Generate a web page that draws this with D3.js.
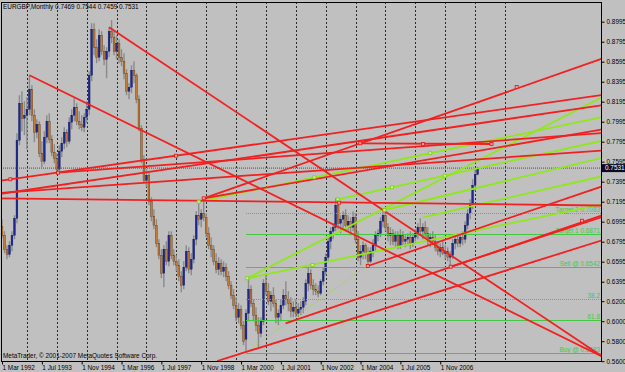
<!DOCTYPE html>
<html>
<head>
<meta charset="utf-8">
<script src="https://cdn.jsdelivr.net/npm/d3@7"></script>
<style>
body { margin: 0; background: #c0c0c0; }
svg { display: block; }
</style>
</head>
<body>
<div id="chart"></div>
<script>
// EURGBP monthly bars, bar 0 = Mar 1992, bar 191 = Feb 2008
var opens = [0.695,0.686,0.672,0.667,0.676,0.686,0.703,0.781,0.818,0.803,
0.806,0.812,0.832,0.806,0.789,0.797,0.768,0.760,0.784,0.800,
0.782,0.769,0.763,0.752,0.770,0.778,0.789,0.780,0.799,0.806,
0.814,0.800,0.797,0.794,0.804,0.812,0.846,0.892,0.874,0.864,
0.886,0.870,0.862,0.870,0.890,0.884,0.870,0.878,0.864,0.860,
0.848,0.830,0.834,0.851,0.846,0.822,0.793,0.762,0.741,0.746,
0.720,0.705,0.696,0.678,0.666,0.648,0.672,0.660,0.686,0.666,
0.660,0.656,0.645,0.636,0.654,0.670,0.652,0.662,0.682,0.706,
0.702,0.708,0.704,0.688,0.676,0.672,0.660,0.652,0.658,0.650,
0.654,0.645,0.636,0.626,0.616,0.604,0.612,0.596,0.582,0.608,
0.632,0.618,0.606,0.596,0.588,0.600,0.638,0.630,0.620,0.626,
0.618,0.604,0.608,0.616,0.626,0.622,0.618,0.610,0.614,0.608,
0.612,0.614,0.620,0.638,0.648,0.636,0.632,0.630,0.628,0.640,
0.650,0.664,0.680,0.690,0.694,0.716,0.698,0.702,0.706,0.696,
0.700,0.694,0.704,0.682,0.664,0.670,0.676,0.668,0.660,0.670,
0.676,0.686,0.688,0.700,0.706,0.694,0.686,0.688,0.680,0.686,
0.676,0.686,0.680,0.682,0.684,0.678,0.684,0.688,0.694,0.690,
0.694,0.688,0.680,0.684,0.680,0.674,0.670,0.674,0.668,0.670,
0.664,0.666,0.678,0.682,0.678,0.684,0.682,0.696,0.708,0.716,
0.736,0.7469];
var highs = [0.702,0.690,0.676,0.680,0.690,0.706,0.788,0.826,0.830,0.820,
0.824,0.846,0.836,0.812,0.802,0.800,0.780,0.790,0.806,0.808,
0.786,0.777,0.768,0.776,0.784,0.794,0.792,0.804,0.812,0.823,
0.818,0.810,0.806,0.808,0.820,0.850,0.898,0.898,0.882,0.892,
0.890,0.876,0.874,0.894,0.901,0.890,0.886,0.882,0.872,0.868,
0.852,0.838,0.856,0.860,0.848,0.826,0.796,0.766,0.752,0.750,
0.724,0.712,0.702,0.682,0.672,0.676,0.680,0.690,0.690,0.672,
0.666,0.662,0.650,0.660,0.676,0.674,0.668,0.686,0.710,0.720,
0.712,0.723,0.708,0.694,0.684,0.676,0.668,0.664,0.662,0.660,
0.658,0.650,0.640,0.632,0.624,0.618,0.616,0.600,0.612,0.643,
0.636,0.622,0.614,0.604,0.604,0.642,0.648,0.638,0.630,0.634,
0.622,0.612,0.622,0.632,0.640,0.630,0.624,0.620,0.622,0.618,
0.620,0.624,0.642,0.654,0.652,0.642,0.638,0.636,0.642,0.654,
0.668,0.684,0.694,0.698,0.723,0.722,0.706,0.710,0.712,0.706,
0.704,0.710,0.708,0.690,0.676,0.680,0.678,0.674,0.674,0.682,
0.690,0.692,0.704,0.713,0.710,0.698,0.694,0.692,0.690,0.690,
0.692,0.690,0.686,0.688,0.690,0.688,0.692,0.698,0.703,0.698,
0.700,0.694,0.688,0.690,0.686,0.680,0.678,0.680,0.676,0.674,
0.670,0.682,0.686,0.688,0.686,0.690,0.700,0.712,0.722,0.742,
0.752,0.7544];
var lows = [0.683,0.668,0.662,0.664,0.670,0.682,0.698,0.776,0.790,0.786,
0.772,0.806,0.800,0.779,0.783,0.764,0.754,0.757,0.778,0.778,
0.765,0.758,0.749,0.750,0.764,0.772,0.774,0.777,0.792,0.800,
0.796,0.792,0.790,0.789,0.798,0.806,0.840,0.866,0.858,0.860,
0.866,0.856,0.843,0.864,0.878,0.866,0.862,0.858,0.855,0.842,
0.826,0.822,0.828,0.838,0.818,0.790,0.758,0.738,0.734,0.716,
0.700,0.692,0.674,0.662,0.643,0.634,0.656,0.655,0.662,0.656,
0.650,0.640,0.629,0.632,0.650,0.648,0.646,0.658,0.676,0.696,
0.694,0.700,0.684,0.672,0.664,0.656,0.648,0.646,0.646,0.644,
0.640,0.632,0.622,0.612,0.600,0.598,0.592,0.576,0.569,0.600,
0.614,0.600,0.590,0.574,0.584,0.596,0.626,0.616,0.610,0.614,
0.598,0.596,0.600,0.612,0.616,0.610,0.604,0.604,0.604,0.604,
0.606,0.608,0.616,0.630,0.632,0.626,0.626,0.624,0.626,0.636,
0.646,0.660,0.672,0.682,0.690,0.692,0.688,0.692,0.690,0.690,
0.686,0.690,0.678,0.660,0.656,0.662,0.662,0.655,0.658,0.664,
0.670,0.680,0.684,0.694,0.690,0.680,0.676,0.676,0.674,0.672,
0.672,0.676,0.674,0.676,0.672,0.674,0.680,0.682,0.686,0.682,
0.684,0.676,0.674,0.676,0.670,0.666,0.664,0.666,0.662,0.660,
0.654,0.662,0.672,0.674,0.674,0.676,0.678,0.692,0.702,0.712,
0.730,0.7459];
var closes = [0.686,0.672,0.667,0.676,0.686,0.703,0.781,0.818,0.803,0.806,
0.812,0.832,0.806,0.789,0.797,0.768,0.760,0.784,0.800,0.782,
0.769,0.763,0.752,0.770,0.778,0.789,0.780,0.799,0.806,0.814,
0.800,0.797,0.794,0.804,0.812,0.846,0.892,0.874,0.864,0.886,
0.870,0.862,0.870,0.890,0.884,0.870,0.878,0.864,0.860,0.848,
0.830,0.834,0.851,0.846,0.822,0.793,0.762,0.741,0.746,0.720,
0.705,0.696,0.678,0.666,0.648,0.672,0.660,0.686,0.666,0.660,
0.656,0.645,0.636,0.654,0.670,0.652,0.662,0.682,0.706,0.702,
0.708,0.704,0.688,0.676,0.672,0.660,0.652,0.658,0.650,0.654,
0.645,0.636,0.626,0.616,0.604,0.612,0.596,0.580,0.608,0.632,
0.618,0.606,0.596,0.588,0.600,0.638,0.630,0.620,0.626,0.618,
0.604,0.608,0.616,0.626,0.622,0.618,0.610,0.614,0.608,0.612,
0.614,0.620,0.638,0.648,0.636,0.632,0.630,0.628,0.640,0.650,
0.664,0.680,0.690,0.694,0.716,0.698,0.702,0.706,0.696,0.700,
0.694,0.704,0.682,0.664,0.670,0.676,0.668,0.660,0.670,0.676,
0.686,0.688,0.700,0.706,0.694,0.686,0.688,0.680,0.686,0.676,
0.686,0.680,0.682,0.684,0.678,0.684,0.688,0.694,0.690,0.694,
0.688,0.680,0.684,0.680,0.674,0.670,0.674,0.668,0.670,0.664,
0.666,0.678,0.682,0.678,0.684,0.682,0.696,0.708,0.716,0.736,
0.7469,0.7531];

var timeTickBars = [0, 16, 32, 48, 64, 80, 96, 112, 128, 144, 160, 176];
var timeTickLabels = ["1 Mar 1992", "1 Jul 1993", "1 Nov 1994", "1 Mar 1996", "1 Jul 1997", "1 Nov 1998",
  "1 Mar 2000", "1 Jul 2001", "1 Nov 2002", "1 Mar 2004", "1 Jul 2005", "1 Nov 2006"];
var yearGridBars = [10, 22, 34, 46, 58, 70, 82, 94, 106, 118, 130, 142, 154, 166, 178, 190, 202];
var priceTicks = [0.8995, 0.8795, 0.8595, 0.8395, 0.8195, 0.7995, 0.7795, 0.7595, 0.7395, 0.7195,
  0.6995, 0.6795, 0.6595, 0.6395, 0.6200, 0.6000, 0.5800, 0.5600];
var lastPrice = 0.7531;

// trend lines: [bar1, price1, bar2, price2]
var redLines = [
  [11, 0.846, 241.4, 0.5642],
  [43, 0.894, 241.4, 0.5642],
  [-1, 0.7404, 241.4, 0.8264],
  [-1, 0.7282, 241.4, 0.7707],
  [-1, 0.7272, 241.4, 0.8162],
  [-1, 0.7229, 241.4, 0.7157],
  [22.5, 0.7485, 241.4, 0.7882],
  [81, 0.7229, 241.4, 0.8629],
  [81, 0.7229, 241.4, 0.7919],
  [86.4, 0.5602, 241.4, 0.6812],
  [113.9, 0.5979, 241.4, 0.7062],
  [146.9, 0.6552, 241.4, 0.7352],
  [180.2, 0.6545, 241.4, 0.7045],
  [143.9, 0.7779, 196.6, 0.7772]
];
var limeLines = [
  [79, 0.7195, 241.4, 0.8042],
  [98.5, 0.6429, 241.4, 0.8245],
  [98.5, 0.6429, 241.4, 0.7172],
  [134.8, 0.7219, 241.4, 0.7807],
  [153.6, 0.7112, 241.4, 0.7635],
  [169.1, 0.7039, 241.4, 0.7452]
];
var dottedLime = [[98.2, 0.5695, 146.2, 0.6545]];
var redMarkers = [[3.35, 0.7419], [22.5, 0.7485], [69.9, 0.7655], [81, 0.7229], [135.4, 0.7185],
  [146.9, 0.6552], [180.2, 0.6545], [206.7, 0.8342], [232.9, 0.7005], [143.9, 0.7779], [169.1, 0.7772], [196.6, 0.7772]];
var limeMarkers = [[79, 0.7195], [98.5, 0.6429], [125.4, 0.7439], [124.7, 0.6562], [134.8, 0.7219],
  [153.6, 0.7112], [156.6, 0.7339], [172, 0.768], [177.8, 0.7455]];

// horizontal levels
var levelPrices = [0.7083, 0.6871, 0.6542, 0.6224, 0.6017, 0.5683];
var levelNames = ["Target 2   0.7083", "Target 1   0.6871", "Sell @  0.6542", "38.2", "61.8", "Buy @  0.5683"];
var levelDotted = [true, false, false, true, false, false];
var levelStartBar = 98;

var width = 625;
var height = 372;
var plotL = 1, plotT = 2, plotR = 601, plotB = 361;
var font = "'Liberation Sans', Arial, sans-serif";

var svg = d3.select("#chart").
append("svg").
attr("width", width).
attr("height", height);

svg.append("rect").
attr("width", width).
attr("height", height).
attr("fill", "#c0c0c0");

var x = d3.scaleLinear().domain([0, 240]).range([2.0, 2.0 + 240 * 2.49]);
var y = d3.scaleLinear().domain([0.5602, 0.9192]).range([plotB, plotT]);

svg.append("clipPath").attr("id", "plotclip").
append("rect").attr("x", plotL).attr("y", plotT).attr("width", plotR - plotL).attr("height", plotB - plotT);

var plot = svg.append("g").attr("clip-path", "url(#plotclip)");

// vertical grid
plot.selectAll(".grid").
data(yearGridBars).
enter().
append("line").
attr("x1", function (d) {return Math.round(x(d)) + 0.5;}).
attr("x2", function (d) {return Math.round(x(d)) + 0.5;}).
attr("y1", plotT).
attr("y2", plotB).
attr("stroke", "#2a2a2a").
attr("stroke-width", 1).
attr("stroke-dasharray", "2,2");

// candles
var bars = d3.range(opens.length);

plot.selectAll(".wick").
data(bars).
enter().
append("line").
attr("x1", function (i) {return x(i);}).
attr("x2", function (i) {return x(i);}).
attr("y1", function (i) {return y(highs[i]);}).
attr("y2", function (i) {return y(lows[i]);}).
attr("stroke", "#8a8a8a").
attr("stroke-width", 1.4);

plot.selectAll(".body").
data(bars).
enter().
append("rect").
attr("x", function (i) {return x(i) - 0.9;}).
attr("width", 1.8).
attr("y", function (i) {return y(Math.max(opens[i], closes[i]));}).
attr("height", function (i) {return Math.max(1, Math.abs(y(opens[i]) - y(closes[i])));}).
attr("fill", function (i) {
  if (closes[i] >= opens[i]) return "#1c2896";else
  return "#c57a32";
}).
attr("stroke", function (i) {
  if (closes[i] >= opens[i]) return "#101a60";else
  return "#5a3a1a";
}).
attr("stroke-width", 0.4);

// current price line
plot.append("line").
attr("x1", plotL).
attr("x2", plotR).
attr("y1", y(lastPrice)).
attr("y2", y(lastPrice)).
attr("stroke", "#a02a2a").
attr("stroke-width", 1).
attr("stroke-dasharray", "1,1");

// horizontal levels
plot.selectAll(".level").
data(levelPrices).
enter().
append("line").
attr("x1", x(levelStartBar)).
attr("x2", plotR).
attr("y1", function (d) {return Math.round(y(d)) + 0.5;}).
attr("y2", function (d) {return Math.round(y(d)) + 0.5;}).
attr("stroke", "#44c844").
attr("stroke-width", 1).
attr("stroke-dasharray", function (d, i) {return levelDotted[i] ? "1,1" : null;});

plot.selectAll(".levelLabel").
data(levelPrices).
enter().
append("text").
attr("x", plotR - 1).
attr("y", function (d) {return Math.round(y(d)) - 1;}).
attr("text-anchor", "end").
attr("font-family", font).
attr("font-size", 6.4).
attr("fill", "#44c844").
text(function (d, i) {return levelNames[i];});

// trend lines
plot.selectAll(".dlime").
data(dottedLime).
enter().
append("line").
attr("x1", function (d) {return x(d[0]);}).
attr("y1", function (d) {return y(d[1]);}).
attr("x2", function (d) {return x(d[2]);}).
attr("y2", function (d) {return y(d[3]);}).
attr("stroke", "#8fe01e").
attr("stroke-width", 1).
attr("stroke-dasharray", "1,2");

plot.selectAll(".lime").
data(limeLines).
enter().
append("line").
attr("x1", function (d) {return x(d[0]);}).
attr("y1", function (d) {return y(d[1]);}).
attr("x2", function (d) {return x(d[2]);}).
attr("y2", function (d) {return y(d[3]);}).
attr("stroke", "#8ee81a").
attr("stroke-width", 1.8);

plot.selectAll(".red").
data(redLines).
enter().
append("line").
attr("x1", function (d) {return x(d[0]);}).
attr("y1", function (d) {return y(d[1]);}).
attr("x2", function (d) {return x(d[2]);}).
attr("y2", function (d) {return y(d[3]);}).
attr("stroke", "#f22020").
attr("stroke-width", 1.8);

plot.selectAll(".rmark").
data(redMarkers).
enter().
append("rect").
attr("x", function (d) {return x(d[0]) - 1.5;}).
attr("y", function (d) {return y(d[1]) - 1.5;}).
attr("width", 3).
attr("height", 3).
attr("fill", "#e8a0a0").
attr("stroke", "#e01818").
attr("stroke-width", 0.8);

plot.selectAll(".lmark").
data(limeMarkers).
enter().
append("rect").
attr("x", function (d) {return x(d[0]) - 1.5;}).
attr("y", function (d) {return y(d[1]) - 1.5;}).
attr("width", 3).
attr("height", 3).
attr("fill", "#c8f0a0").
attr("stroke", "#7cd010").
attr("stroke-width", 0.8);

// frame
svg.append("rect").
attr("x", plotL + 0.5).
attr("y", plotT + 0.5).
attr("width", plotR - plotL).
attr("height", plotB - plotT).
attr("fill", "none").
attr("stroke", "#000").
attr("stroke-width", 1);

// price axis
var yAxis = d3.axisRight(y).
tickValues(priceTicks).
tickSize(3).
tickPadding(2).
tickFormat(d3.format(".4f"));

svg.append("g").
attr("transform", "translate(" + (plotR + 0.5) + ",0)").
call(yAxis).
call(function (g) {g.select(".domain").remove();}).
attr("font-family", font).
attr("font-size", 6.4);

// time axis
var xAxis = d3.axisBottom(x).
tickValues(timeTickBars).
tickSize(3).
tickPadding(1).
tickFormat(function (d, i) {return timeTickLabels[i];});

svg.append("g").
attr("transform", "translate(0," + (plotB + 0.5) + ")").
call(xAxis).
call(function (g) {g.select(".domain").remove();}).
attr("font-family", font).
attr("font-size", 6.4).
selectAll("text").
attr("text-anchor", "start");

// last price box
svg.append("rect").
attr("x", plotR + 1).
attr("y", y(lastPrice) - 4).
attr("width", 23).
attr("height", 8).
attr("fill", "#0a0a28");

svg.append("text").
attr("x", plotR + 4).
attr("y", y(lastPrice) + 2.3).
attr("font-family", font).
attr("font-size", 6.4).
attr("fill", "#ffffff").
text("0.7531");

// header and footer text
svg.append("text").
attr("x", 3).
attr("y", 9).
attr("font-family", font).
attr("font-size", 6.4).
attr("fill", "#000").
text("EURGBP,Monthly  0.7469 0.7544 0.7459 0.7531");

svg.append("text").
attr("x", 3).
attr("y", 358).
attr("font-family", font).
attr("font-size", 6.4).
attr("fill", "#000").
text("MetaTrader, \u00a9 2001-2007 MetaQuotes Software Corp.");
</script>
</body>
</html>
